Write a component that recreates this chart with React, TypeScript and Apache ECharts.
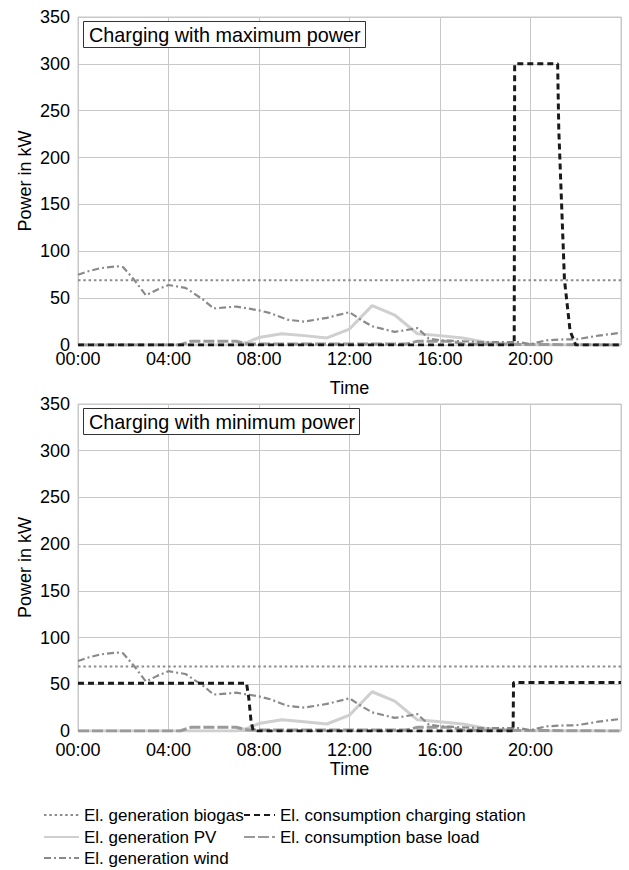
import React, { useEffect, useRef } from "react";
import * as echarts from "echarts";

const FONT = "'Liberation Sans', Arial, Helvetica, sans-serif";

// ---- data (hour of day, kW) ----
const titles = ["Charging with maximum power", "Charging with minimum power"];
const seriesNames = [
  "El. generation biogas",
  "El. generation PV",
  "El. generation wind",
  "El. consumption charging station",
  "El. consumption base load",
];

const biogas: [number, number][] = [
  [0, 69],
  [24, 69],
];

const pv: [number, number][] = [
  [0, 0], [7, 0], [7.5, 3], [8, 8], [9, 12], [10, 10], [11, 7.5], [12, 17],
  [13, 42], [14, 32], [15, 12], [16, 10], [17, 7.5], [18, 3], [19, 1], [20, 0], [24, 0],
];

const wind: [number, number][] = [
  [0, 75], [0.5, 79], [1, 82], [1.75, 84], [2, 83], [2.5, 69], [3, 53], [3.5, 59],
  [4, 64], [4.75, 61], [5.5, 49], [6, 39], [7, 41], [8, 37], [8.5, 34], [9.25, 27],
  [10, 25], [11, 29], [12, 35], [12.5, 27], [13, 20], [14, 14], [15, 18], [15.5, 7],
  [16, 5], [17, 4], [18, 3], [19, 3], [19.5, 3], [20, 1], [20.7, 5], [21.5, 6],
  [22, 6], [23, 10], [24, 13],
];

const baseLoad: [number, number][] = [
  [0, 0], [4.5, 0], [5, 4], [7, 4], [7.5, 1], [14.5, 1], [15, 4], [16.5, 4], [17, 1], [24, 0],
];

const chargingMax: [number, number][] = [
  [0, 0], [19.28, 0], [19.3, 300], [21.2, 300], [21.25, 230], [21.5, 70],
  [21.75, 15], [22, 0], [24, 0],
];

const chargingMin: [number, number][] = [
  [0, 51], [7.45, 51], [7.55, 35], [7.65, 10], [7.75, 0], [19.23, 0], [19.25, 52], [24, 52],
];

const yMax = 350;
const yStep = 50;
const xMax = 24;
const xStep = 4;

const styles: Record<string, any> = {
  "El. generation biogas": { color: "#8c8c8c", width: 2, type: [2.5, 2.8] },
  "El. generation PV": { color: "#cfcfcf", width: 3, type: "solid" },
  "El. generation wind": { color: "#8a8a8a", width: 2.2, type: [7, 3, 2, 3] },
  "El. consumption charging station": { color: "#1a1a1a", width: 3, type: [6, 4] },
  "El. consumption base load": { color: "#9a9a9a", width: 3, type: [11, 3] },
};

function buildOption() {
  const grids = [
    { left: 78, top: 17, width: 543, height: 328, show: true, borderColor: "#c8c8c8", borderWidth: 1, backgroundColor: "transparent" },
    { left: 78, top: 404, width: 543, height: 327, show: true, borderColor: "#c8c8c8", borderWidth: 1, backgroundColor: "transparent" },
  ];
  const labelMargins = [5, 10];
  const nameGaps = [34, 29];

  const xAxis = grids.map((_, i) => ({
    type: "value",
    gridIndex: i,
    min: 0,
    max: xMax,
    interval: xStep,
    name: "Time",
    nameLocation: "middle",
    nameGap: nameGaps[i],
    nameMoveOverlap: false,
    nameTextStyle: { fontFamily: FONT, fontSize: 18, color: "#000" },
    axisLine: { show: false },
    axisTick: { show: false },
    axisLabel: {
      showMaxLabel: false,
      margin: labelMargins[i],
      fontFamily: FONT,
      fontSize: 18,
      color: "#000",
      formatter: (v: number) => (v < 10 ? "0" : "") + v + ":00",
    },
    splitLine: { show: true, lineStyle: { color: "#c8c8c8", width: 1 } },
  }));

  const yAxis = grids.map((_, i) => ({
    type: "value",
    gridIndex: i,
    min: 0,
    max: yMax,
    interval: yStep,
    name: "Power in kW",
    nameLocation: "middle",
    nameGap: 44,
    nameMoveOverlap: false,
    nameTextStyle: { fontFamily: FONT, fontSize: 18, color: "#000" },
    axisLine: { show: false },
    axisTick: { show: false },
    axisLabel: { margin: 8, fontFamily: FONT, fontSize: 18, color: "#000" },
    splitLine: { show: true, lineStyle: { color: "#c8c8c8", width: 1 } },
  }));

  const perChart = [{ charging: chargingMax }, { charging: chargingMin }];

  const series: any[] = [];
  perChart.forEach((c, i) => {
    const dataByName: Record<string, [number, number][]> = {
      "El. generation PV": pv,
      "El. consumption base load": baseLoad,
      "El. generation biogas": biogas,
      "El. generation wind": wind,
      "El. consumption charging station": c.charging,
    };
    [
      "El. generation PV",
      "El. consumption base load",
      "El. generation biogas",
      "El. generation wind",
      "El. consumption charging station",
    ].forEach((name) => {
      const st = styles[name];
      series.push({
        type: "line",
        name,
        xAxisIndex: i,
        yAxisIndex: i,
        data: dataByName[name],
        showSymbol: false,
        symbol: "none",
        lineStyle: { color: st.color, width: st.width, type: st.type },
        itemStyle: { color: st.color },
        emphasis: { disabled: true },
      });
    });
  });

  const title = titles.map((t, i) => ({
    text: t,
    left: 83,
    top: i === 0 ? 21 : 408,
    padding: [3, 5, 3, 6],
    borderColor: "#333",
    borderWidth: 1,
    backgroundColor: "#fff",
    textStyle: { fontFamily: FONT, fontSize: 19.8, lineHeight: 21, fontWeight: "normal", color: "#000" },
  }));

  const legendText = { fontFamily: FONT, fontSize: 17, color: "#000", lineHeight: 20 };
  const legendPlacement: { name: string; left: number; top: number; w: number }[] = [
    { name: seriesNames[0], left: 43, top: 805, w: 35 },
    { name: seriesNames[1], left: 43, top: 827, w: 35 },
    { name: seriesNames[2], left: 43, top: 848, w: 35 },
    { name: seriesNames[3], left: 243, top: 805, w: 31 },
    { name: seriesNames[4], left: 243, top: 827, w: 31 },
  ];
  const legend = legendPlacement.map((p) => ({
    orient: "horizontal",
    left: p.left,
    top: p.top,
    itemWidth: p.w,
    itemHeight: 14,
    padding: 0,
    data: [p.name],
    textStyle: legendText,
    itemStyle: { opacity: 0 },
    selectedMode: false,
  }));

  return {
    animation: false,
    backgroundColor: "#fff",
    title,
    legend,
    grid: grids,
    xAxis,
    yAxis,
    series,
  };
}

export default function App() {
  const ref = useRef<HTMLDivElement>(null);
  useEffect(() => {
    if (!ref.current) return;
    const chart = echarts.init(ref.current, null, { renderer: "svg" });
    chart.setOption(buildOption() as any);
    return () => chart.dispose();
  }, []);
  return (
    <div
      ref={ref}
      style={{ position: "fixed", left: 0, top: 0, width: 629, height: 870, background: "#fff" }}
    />
  );
}
